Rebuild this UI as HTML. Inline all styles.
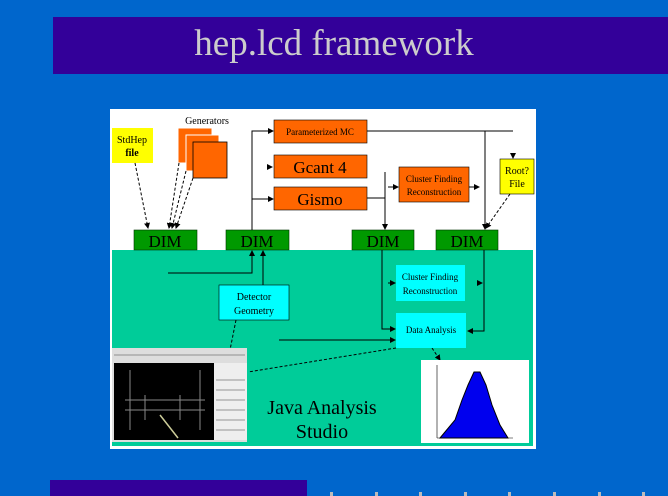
<!DOCTYPE html>
<html><head><meta charset="utf-8"><style>
html,body{margin:0;padding:0;background:#0066cc;width:668px;height:496px;overflow:hidden}
svg{display:block}
</style></head><body>
<svg width="668" height="496" viewBox="0 0 668 496" xmlns="http://www.w3.org/2000/svg" font-family="'Liberation Serif', serif">
<defs>
<marker id="a" markerWidth="6" markerHeight="6" refX="5" refY="3" orient="auto" markerUnits="userSpaceOnUse"><path d="M0,0L6,3L0,6z" fill="#000"/></marker>
</defs>
<rect x="0" y="0" width="668" height="496" fill="#0066cc"/>
<rect x="53" y="17" width="615" height="57" fill="#330099"/>
<text x="334" y="55" font-size="37" fill="#cccccc" text-anchor="middle" font-family="'Liberation Serif', serif">hep.lcd framework</text>
<rect x="50" y="480" width="257" height="16" fill="#330099"/>
<g fill="#bbb"><rect x="330" y="492" width="3" height="4"/><rect x="375" y="492" width="3" height="4"/><rect x="419" y="492" width="3" height="4"/><rect x="464" y="492" width="3" height="4"/><rect x="508" y="492" width="3" height="4"/><rect x="553" y="492" width="3" height="4"/><rect x="598" y="492" width="3" height="4"/><rect x="642" y="492" width="3" height="4"/></g>

<rect x="110" y="109" width="426" height="340" fill="#fff"/>
<rect x="112" y="250" width="421" height="196" fill="#00cc99"/>

<g font-family="'Liberation Serif', serif">
<rect x="112" y="128" width="41" height="35" fill="#ffff00"/>
<text x="132" y="143" font-size="10" text-anchor="middle">StdHep</text>
<text x="132" y="156" font-size="10" text-anchor="middle" font-weight="bold">file</text>
<text x="207" y="124" font-size="10" text-anchor="middle">Generators</text>
<rect x="178" y="128" width="34" height="35" fill="#ff6600" stroke="#fff" stroke-width="1"/>
<rect x="186" y="135" width="33" height="36" fill="#ff6600" stroke="#fff" stroke-width="1"/>
<rect x="193" y="142" width="34" height="36" fill="#ff6600" stroke="#000" stroke-width="0.8"/>

<rect x="274" y="120" width="93" height="23" fill="#ff6600" stroke="#000" stroke-width="0.6"/>
<text x="320" y="135" font-size="9" text-anchor="middle">Parameterized MC</text>
<rect x="274" y="155" width="93" height="23" fill="#ff6600" stroke="#000" stroke-width="0.6"/>
<text x="320" y="173" font-size="17" text-anchor="middle" font-family="'Liberation Serif', serif">Gcant 4</text>
<rect x="274" y="187" width="93" height="23" fill="#ff6600" stroke="#000" stroke-width="0.6"/>
<text x="320" y="205" font-size="17" text-anchor="middle" font-family="'Liberation Serif', serif">Gismo</text>
<rect x="399" y="167" width="70" height="35" fill="#ff6600" stroke="#000" stroke-width="0.6"/>
<text x="434" y="182" font-size="9" text-anchor="middle">Cluster Finding</text>
<text x="434" y="195" font-size="9" text-anchor="middle">Reconstruction</text>
<rect x="500" y="159" width="34" height="35" fill="#ffff00" stroke="#000" stroke-width="0.6"/>
<text x="517" y="174" font-size="10" text-anchor="middle">Root?</text>
<text x="517" y="187" font-size="10" text-anchor="middle">File</text>

<g fill="#009900" stroke="#003300" stroke-width="0.6"><rect x="134" y="230" width="63" height="20"/><rect x="226" y="230" width="63" height="20"/><rect x="352" y="230" width="62" height="20"/><rect x="436" y="230" width="62" height="20"/></g>
<g font-size="17" text-anchor="middle" font-family="'Liberation Serif', serif"><text x="165" y="247">DIM</text><text x="257" y="247">DIM</text><text x="383" y="247">DIM</text><text x="467" y="247">DIM</text></g>
</g>

<g stroke="#000" stroke-width="1" fill="none">
<path d="M252,230V131H273" marker-end="url(#a)"/>
<path d="M252,199H273" marker-end="url(#a)"/>
<path d="M268,167H272" marker-end="url(#a)"/>
<path d="M367,131H513"/>
<path d="M485,131V229" marker-end="url(#a)"/>
<path d="M367,198H385"/>
<path d="M385,172V229" marker-end="url(#a)"/>
<path d="M388,187H398" marker-end="url(#a)"/>
<path d="M469,187H479" marker-end="url(#a)"/>
<path d="M513,154V158" marker-end="url(#a)"/>
<path d="M382,250V329H395" marker-end="url(#a)"/>
<path d="M484,250V331H468" marker-end="url(#a)"/>
<path d="M388,283H395" marker-end="url(#a)"/>
<path d="M478,283H482" marker-end="url(#a)"/>
<path d="M168,273H252V251" marker-end="url(#a)"/>
<path d="M263,285V251" marker-end="url(#a)"/>
<path d="M279,340H395" marker-end="url(#a)"/>
</g>
<g stroke="#000" stroke-width="1" fill="none" stroke-dasharray="3,2">
<path d="M135,163L148,228" marker-end="url(#a)"/>
<path d="M179,163L169,228" marker-end="url(#a)"/>
<path d="M186,171L172,228" marker-end="url(#a)"/>
<path d="M193,178L176,228" marker-end="url(#a)"/>
<path d="M510,194L486,228" marker-end="url(#a)"/>
<path d="M236,320L226,370" marker-end="url(#a)"/>
<path d="M396,348L248,372"/>
<path d="M432,348L440,360" marker-end="url(#a)"/>
</g>

<g font-family="'Liberation Serif', serif">
<rect x="396" y="265" width="69" height="36" fill="#00ffff"/>
<text x="430" y="280" font-size="9" text-anchor="middle">Cluster Finding</text>
<text x="430" y="294" font-size="9" text-anchor="middle">Reconstruction</text>
<rect x="396" y="313" width="70" height="35" fill="#00ffff"/>
<text x="431" y="333" font-size="9" text-anchor="middle">Data Analysis</text>
<rect x="219" y="285" width="70" height="35" fill="#00ffff" stroke="#000" stroke-width="0.6"/>
<text x="254" y="300" font-size="10" text-anchor="middle">Detector</text>
<text x="254" y="314" font-size="10" text-anchor="middle">Geometry</text>
</g>

<rect x="112" y="348" width="135" height="94" fill="#ddd"/>
<rect x="114" y="363" width="100" height="77" fill="#000"/>
<g stroke="#888" stroke-width="1"><path d="M130,370V430M200,370V430M125,400H205M125,410H205M145,395V420M180,395V420"/></g>
<path d="M160,415L178,438" stroke="#cc9" stroke-width="1.5"/>
<rect x="214" y="363" width="33" height="77" fill="#eee"/>
<g stroke="#777" stroke-width="0.8"><path d="M216,380H245M216,390H245M216,400H245M216,410H245M216,420H245M216,430H245M114,355H245"/></g>

<text x="322" y="414" font-size="20" text-anchor="middle" font-family="'Liberation Serif', serif">Java Analysis</text>
<text x="322" y="438" font-size="20" text-anchor="middle" font-family="'Liberation Serif', serif">Studio</text>

<rect x="421" y="360" width="108" height="83" fill="#fff"/>
<path d="M440,438L455,420L462,400L468,385L474,372L480,372L486,385L492,405L500,425L508,438Z" fill="#0000ee" stroke="#000"/>
<path d="M437,438L513,438M437,365V438" stroke="#000" stroke-width="0.6"/>
</svg>
</body></html>
